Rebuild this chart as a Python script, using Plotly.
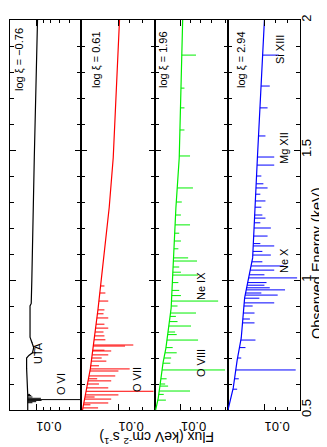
import numpy as np
import plotly.graph_objects as go

# continuum per panel: energy (keV) and flux (keV cm-2 s-1)
e_cont_1 = [0.50, 0.56, 0.66, 0.70, 0.71, 0.72, 0.74, 0.76, 0.78, 0.90, 0.91, 1.00, 1.28, 1.47, 2.00]
f_cont_1 = [0.0114, 0.0114, 0.0116, 0.0116, 0.0112, 0.0106, 0.0104, 0.0107, 0.0110, 0.0110, 0.0108, 0.0107, 0.0105, 0.0103, 0.0098]

e_cont_2 = [0.50, 0.66, 0.89, 1.28, 1.47, 2.00]
f_cont_2 = [0.0140, 0.0130, 0.0121, 0.0109, 0.0105, 0.0099]

e_cont_3 = [0.50, 0.546, 0.681, 0.738, 0.892, 1.277, 1.469, 2.00]
f_cont_3 = [0.0134, 0.0130, 0.0123, 0.0119, 0.0112, 0.0106, 0.0102, 0.0098]

e_cont_4 = [0.50, 0.585, 0.692, 0.777, 0.931, 1.085, 1.469, 2.00]
f_cont_4 = [0.0142, 0.0135, 0.0130, 0.0125, 0.0121, 0.0112, 0.0107, 0.0100]

# absorption lines: energy and flux reached at line centre
e_abs_1 = [0.528, 0.532, 0.537, 0.540, 0.545, 0.550, 0.556, 0.560, 0.720, 0.735, 0.745, 0.760]
f_abs_1 = [0.0106, 0.0100, 0.0092, 0.0050, 0.0093, 0.0106, 0.0108, 0.0110, 0.0100, 0.0101, 0.0103, 0.0106]

e_abs_2 = [0.508, 0.520, 0.527, 0.542, 0.550, 0.558, 0.572, 0.585, 0.600, 0.612, 0.620, 0.631,
           0.650, 0.658, 0.670, 0.688, 0.700, 0.712, 0.727, 0.730, 0.746, 0.750, 0.770, 0.785,
           0.800, 0.815, 0.830, 0.854, 0.870, 0.885, 0.919, 0.950, 0.977]
f_abs_2 = [0.0121, 0.0130, 0.0110, 0.0107, 0.0125, 0.0100, 0.0072, 0.0110, 0.0120, 0.0107, 0.0122, 0.0103,
           0.0100, 0.0090, 0.0120, 0.0112, 0.0117, 0.0110, 0.0107, 0.0114, 0.0094, 0.0087, 0.0113, 0.0114,
           0.0115, 0.0110, 0.0114, 0.0110, 0.0115, 0.0114, 0.0110, 0.0113, 0.0114]

e_abs_3 = [0.538, 0.560, 0.573, 0.592, 0.600, 0.620, 0.654, 0.680, 0.700, 0.720, 0.740, 0.769,
           0.790, 0.800, 0.823, 0.840, 0.860, 0.873, 0.900, 0.919, 0.940, 0.960, 0.990, 1.019,
           1.030, 1.050, 1.073, 1.085, 1.120, 1.150, 1.180, 1.212, 1.250, 1.300, 1.354, 1.477,
           1.577, 1.662, 1.738, 1.865]
f_abs_3 = [0.0119, 0.0122, 0.0090, 0.0116, 0.0120, 0.0118, 0.0060, 0.0113, 0.0112, 0.0105, 0.0110, 0.0082,
           0.0105, 0.0107, 0.0089, 0.0104, 0.0106, 0.0084, 0.0104, 0.0065, 0.0100, 0.0102, 0.0103, 0.0082,
           0.0100, 0.0102, 0.0083, 0.0092, 0.0103, 0.0100, 0.0102, 0.0090, 0.0100, 0.0099, 0.0087, 0.0090,
           0.0096, 0.0096, 0.0096, 0.0084]

e_abs_4 = [0.580, 0.620, 0.654, 0.700, 0.740, 0.769, 0.835, 0.850, 0.873, 0.900, 0.912, 0.930,
           0.942, 0.950, 0.962, 0.970, 0.980, 0.990, 1.008, 1.020, 1.038, 1.054, 1.070, 1.096,
           1.110, 1.131, 1.140, 1.169, 1.200, 1.220, 1.238, 1.250, 1.280, 1.304, 1.330, 1.354,
           1.370, 1.400, 1.442, 1.473, 1.554, 1.662, 1.746, 1.865]
f_abs_4 = [0.0130, 0.0128, 0.0074, 0.0125, 0.0120, 0.0109, 0.0110, 0.0115, 0.0110, 0.0112, 0.0091, 0.0105,
           0.0088, 0.0103, 0.0082, 0.0095, 0.0100, 0.0098, 0.0073, 0.0100, 0.0091, 0.0083, 0.0102, 0.0094,
           0.0102, 0.0091, 0.0104, 0.0097, 0.0094, 0.0104, 0.0099, 0.0102, 0.0103, 0.0099, 0.0104, 0.0097,
           0.0101, 0.0103, 0.0091, 0.0091, 0.0099, 0.0097, 0.0095, 0.0087]

panel_labels = ["log \u03be = \u22120.76", "log \u03be = 0.61", "log \u03be = 1.96", "log \u03be = 2.94"]
colors = ["#000000", "#ff0000", "#00ee00", "#0000ff"]
x_ranges = [(0.015, 0.005), (0.0142, 0.0071), (0.0135, 0.0058), (0.0142, 0.0071)]
domains = [(0.0, 0.2448), (0.2448, 0.5), (0.5, 0.7517), (0.7517, 1.0)]

ion_names = ["O VI", "UTA", "O VII", "O VIII", "Ne IX", "Ne X", "Mg XII", "Si XIII"]
# label spots in pixels (x, y) as seen on the turned page
ion_px = [(60, 376), (37, 345), (136, 372), (200, 355), (200, 278), (283, 253), (283, 140), (279, 42)]
label_px = [(18, 52), (95, 52), (162, 52), (240, 52)]

L, T, W, H = 2, 12, 290, 390
shift = 7  # rotated text lands a bit right of its anchor


def to_paper(x, y):
    return (x - shift - L) / W, (T + H - y) / H


def spike_xy(e_cont, f_cont, e_abs, f_abs):
    xs, ys = [], []
    for e, f in zip(e_abs, f_abs):
        c = 10 ** np.interp(e, e_cont, np.log10(f_cont))
        xs += [c, min(f, c), None]
        ys += [e, e, None]
    return xs, ys


conts = [(e_cont_1, f_cont_1), (e_cont_2, f_cont_2), (e_cont_3, f_cont_3), (e_cont_4, f_cont_4)]
lines = [(e_abs_1, f_abs_1), (e_abs_2, f_abs_2), (e_abs_3, f_abs_3), (e_abs_4, f_abs_4)]

fig = go.Figure()
font = "Liberation Sans, Arial, sans-serif"

for i in range(4):
    sfx = "" if i == 0 else str(i + 1)
    ec, fc = conts[i]
    ea, fa = lines[i]
    sx, sy = spike_xy(ec, fc, ea, fa)
    fig.add_trace(go.Scatter(x=fc, y=ec, mode="lines", line=dict(color=colors[i], width=1.2),
                             xaxis="x" + sfx, yaxis="y" + sfx, showlegend=False))
    fig.add_trace(go.Scatter(x=sx, y=sy, mode="lines", line=dict(color=colors[i], width=1),
                             xaxis="x" + sfx, yaxis="y" + sfx, showlegend=False))

    lo, hi = x_ranges[i]
    fig.layout["xaxis" + sfx] = dict(
        type="log", domain=list(domains[i]), anchor="y" + sfx,
        range=[np.log10(lo), np.log10(hi)],
        tickvals=[0.01], ticktext=["0.01"], tickangle=180,
        ticks="inside", ticklen=6, tickcolor="black", ticklabelstandoff=8,
        minor=dict(tickvals=[0.005, 0.006, 0.007, 0.008, 0.009], ticks="inside",
                   ticklen=3, tickcolor="black"),
        showline=True, linecolor="black", linewidth=1, mirror="ticks",
        showgrid=False, zeroline=False, tickfont=dict(size=13, color="black"))
    fig.layout["yaxis" + sfx] = dict(
        range=[0.5, 2.0], anchor="x" + sfx,
        tickvals=[0.5, 1.0, 1.5, 2.0], ticktext=["0.5", "1", "1.5", "2"],
        ticks="inside", ticklen=6, tickcolor="black",
        minor=dict(dtick=0.1, ticks="inside", ticklen=4, tickcolor="black"),
        showline=True, linecolor="black", linewidth=1, mirror="ticks",
        showgrid=False, zeroline=False, showticklabels=(i == 3),
        side="right" if i == 3 else "left", tickangle=-90,
        ticklabelstandoff=-6 if i == 3 else 0,
        tickfont=dict(size=13, color="black"))

    ax, ay = to_paper(*label_px[i])
    fig.add_annotation(text=panel_labels[i], xref="paper", yref="paper", x=ax, y=ay,
                       xanchor="center", yanchor="middle",
                       textangle=-90, showarrow=False, font=dict(size=11, color="black"))

for name, pos in zip(ion_names, ion_px):
    ax, ay = to_paper(*pos)
    fig.add_annotation(text=name, xref="paper", yref="paper", x=ax, y=ay,
                       xanchor="center", yanchor="middle",
                       textangle=-90, showarrow=False, font=dict(size=11, color="black"))

# axis titles placed by hand, the picture is turned on its side
ax, ay = to_paper(316, 255)
fig.add_annotation(text="Observed Energy (keV)", xref="paper", yref="paper",
                   x=ax, y=ay, xanchor="center", yanchor="middle",
                   textangle=-90, showarrow=False, font=dict(size=14.5, color="black"))
fig.add_annotation(text="Flux (keV cm<sup>-2</sup> s<sup>-1</sup>)", xref="paper", yref="paper",
                   x=(149 - L) / W, y=(T + H - 430) / H, xanchor="center", yanchor="middle",
                   textangle=180, showarrow=False, font=dict(size=14, color="black"))

fig.update_layout(width=327, height=447, margin=dict(l=2, r=35, t=12, b=45),
                  plot_bgcolor="white", paper_bgcolor="white",
                  font=dict(family=font, color="black"))

fig.write_html("out.html")
